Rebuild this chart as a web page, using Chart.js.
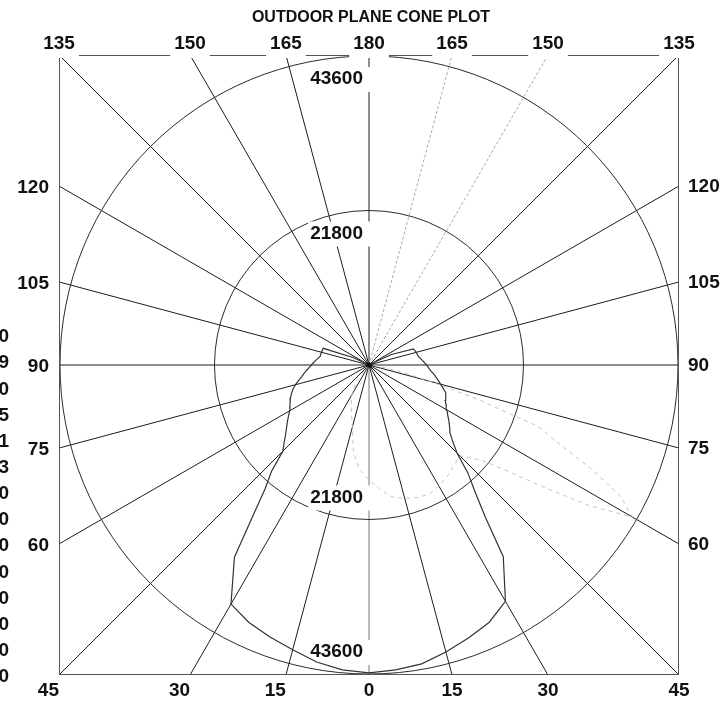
<!DOCTYPE html>
<html>
<head>
<meta charset="utf-8">
<title>Outdoor Plane Cone Plot</title>
<script src="https://cdn.jsdelivr.net/npm/chart.js@4.4.1/dist/chart.umd.min.js"></script>
<style>
  html, body { margin: 0; padding: 0; background: #fff; }
  #wrap { position: relative; width: 720px; height: 703px; }
</style>
</head>
<body>
<div id="wrap"><canvas id="cone"></canvas></div>
<script>
// angles from nadir, degrees
const angles = [0, 5, 10, 15, 20, 25, 30, 35,
  37.5, 40, 42.5, 45, 47.5, 50, 52.5, 55, 57.5, 60, 62.5, 65, 67.5, 70, 72.5, 75, 77.5, 80, 82.5, 85, 87.5, 90,
  95, 100, 105, 110, 115, 120, 125, 130, 135, 140, 145, 150, 155, 160, 165, 170, 175, 180];

// candela, left half of the plane
const leftCd = [43450, 43180, 42560, 41600, 40850, 40080, 38950, 33100,
  27000, 22800, 20380, 17200, 16240, 15380, 14680, 14070, 13480, 12900, 12570, 12280, 11980, 11620, 11240, 10730, 10190, 9660, 9260, 8860, 8460, 8130,
  7550, 7000, 6940, 6870, 2500, 300, 100, 0, 0, 0, 0, 0, 0, 0, 0, 0, 0, 0];

// candela, right half of the plane
const rightCd = [43440, 43180, 42820, 41920, 41000, 40080, 38500, 33030,
  26850, 23210, 20650, 17560, 16050, 14920, 14340, 13760, 13170, 12700, 12280, 11860, 11700, 11540, 11000, 10460, 10000, 9570, 9130, 8690, 8400, 8120,
  7570, 7050, 6910, 6680, 3500, 500, 100, 0, 0, 0, 0, 0, 0, 0, 0, 0, 0, 0];

// faint second plane (negative angle = left of nadir)
const faintAngles = [-50, -40, -30, -20, -10, -5, 0, 5, 10, 15, 20, 25, 30, 35, 40, 45, 50, 52.5, 55, 57.5, 60, 62.5, 65, 67.5, 70, 72.5, 75, 77.5, 80, 85, 90];
const faintCd = [0, 2500, 5000, 7200, 12600, 14800, 16200, 17600, 18900, 19500, 19900, 20100, 19700, 19200, 18600, 18100, 21000, 24500, 30000, 37000, 42900, 40000, 34500, 29000, 25500, 16000, 9000, 5000, 2500, 600, 0];

const ringValues = [21800, 43600];
const ringLabels = ['21800', '43600'];
const limit = 43740;

const topAngles = [-135, -150, -165, 180, 165, 150, 135];
const bottomAngles = [-45, -30, -15, 0, 15, 30, 45];
const leftAngles = [-120, -105, -90, -75, -60];
const rightAngles = [120, 105, 90, 75, 60];
const edgeDigits = ['0', '9', '0', '5', '1', '3', '0', '0', '0', '0', '0', '0', '0', '0'];

function toXY(deg, cd) {
  const r = deg * Math.PI / 180;
  return { x: cd * Math.sin(r), y: -cd * Math.cos(r) };
}

function edgePoint(deg) {
  const r = deg * Math.PI / 180;
  const s = Math.sin(r), c = Math.cos(r);
  const t = limit / Math.max(Math.abs(s), Math.abs(c));
  return { x: t * s, y: -t * c };
}

const mainPts = [];
for (let i = angles.length - 1; i >= 0; i--) mainPts.push(toXY(-angles[i], leftCd[i]));
for (let i = 1; i < angles.length; i++) mainPts.push(toXY(angles[i], rightCd[i]));
const faintPts = faintAngles.map((a, i) => toXY(a, faintCd[i]));

const FONT = '"Liberation Sans", Arial, sans-serif';

const conePlugin = {
  id: 'coneGrid',
  beforeDatasetsDraw(chart) {
    const { ctx, chartArea: ca, scales: { x, y } } = chart;
    const cx = x.getPixelForValue(0), cy = y.getPixelForValue(0);
    ctx.save();

    // spokes every 15 degrees
    for (let a = -165; a <= 180; a += 15) {
      const p = edgePoint(a);
      ctx.beginPath();
      if (a === 150 || a === 165) {
        ctx.strokeStyle = '#aaa'; ctx.setLineDash([3, 2]);
      } else if (a === 0) {
        ctx.strokeStyle = '#777'; ctx.setLineDash([]);
      } else {
        ctx.strokeStyle = '#1c1c1c'; ctx.setLineDash([]);
      }
      ctx.lineWidth = 1;
      ctx.moveTo(cx, cy);
      ctx.lineTo(x.getPixelForValue(p.x), y.getPixelForValue(p.y));
      ctx.stroke();
    }
    ctx.setLineDash([]);

    // rings
    ringValues.forEach(v => {
      const r = x.getPixelForValue(v) - cx;
      ctx.beginPath();
      ctx.strokeStyle = '#2a2a2a';
      ctx.lineWidth = 1;
      ctx.arc(cx, cy, r, 0, Math.PI * 2);
      ctx.stroke();
    });

    // border
    ctx.strokeStyle = '#555';
    ctx.strokeRect(ca.left + 0.5, ca.top + 0.5, ca.right - ca.left - 1, ca.bottom - ca.top - 1);

    // ring labels, left of the vertical spoke
    ctx.font = 'bold 19px ' + FONT;
    ctx.textBaseline = 'middle';
    ctx.textAlign = 'right';
    ringValues.forEach((v, i) => {
      const r = x.getPixelForValue(v) - cx;
      const w = ctx.measureText(ringLabels[i]).width;
      [cy - r + 23, cy + r - 22].forEach(ly => {
        ctx.fillStyle = '#fff';
        ctx.fillRect(cx - 6 - w - 2, ly - 12, w + 13, 25);
        ctx.fillStyle = '#111';
        ctx.fillText(ringLabels[i], cx - 6, ly);
      });
    });

    // angle labels
    ctx.fillStyle = '#111';
    topAngles.forEach(a => {
      const p = edgePoint(a);
      const lx = x.getPixelForValue(p.x);
      const txt = String(Math.abs(a));
      const w = ctx.measureText(txt).width;
      ctx.fillStyle = '#fff';
      ctx.fillRect(lx - w / 2 - 4, ca.top - 22, w + 8, 25);
      ctx.fillStyle = '#111';
      ctx.textAlign = 'center';
      ctx.fillText(txt, lx, ca.top - 11);
    });
    bottomAngles.forEach(a => {
      const p = edgePoint(a);
      const lx = x.getPixelForValue(p.x);
      ctx.textAlign = a < 0 ? 'right' : 'center';
      ctx.fillText(String(Math.abs(a)), lx, ca.bottom + 16);
    });
    leftAngles.forEach(a => {
      const p = edgePoint(a);
      ctx.textAlign = 'right';
      ctx.fillText(String(Math.abs(a)), ca.left - 10, y.getPixelForValue(p.y) + 2);
    });
    rightAngles.forEach(a => {
      const p = edgePoint(a);
      ctx.textAlign = 'left';
      ctx.fillText(String(a), ca.right + 9, y.getPixelForValue(p.y) + 1);
    });

    // clipped column at far left
    ctx.textAlign = 'right';
    edgeDigits.forEach((d, i) => ctx.fillText(d, 9, 337 + i * 26.15));

    // title
    ctx.font = 'bold 16px ' + FONT;
    ctx.textAlign = 'center';
    ctx.fillText('OUTDOOR PLANE CONE PLOT', 371, 18);

    ctx.restore();
  },
  afterDatasetsDraw(chart) {
    const { ctx, scales: { x, y } } = chart;
    const cx = x.getPixelForValue(0), cy = y.getPixelForValue(0);
    ctx.save();
    ctx.fillStyle = '#111';
    ctx.beginPath();
    ctx.arc(cx, cy, 2.5, 0, Math.PI * 2);
    ctx.fill();
    ctx.restore();
  }
};

new Chart(document.getElementById('cone'), {
  type: 'scatter',
  data: {
    datasets: [{
      label: 'Main plane',
      data: mainPts,
      showLine: true,
      borderColor: '#333',
      borderWidth: 1.2,
      pointRadius: 0,
      tension: 0
    }, {
      label: 'Second plane',
      data: faintPts,
      showLine: true,
      borderColor: '#c4c4c4',
      borderWidth: 1,
      borderDash: [4, 4],
      pointRadius: 0,
      tension: 0
    }]
  },
  options: {
    responsive: true,
    maintainAspectRatio: false,
    animation: false,
    layout: { padding: { left: 59, right: 41, top: 55, bottom: 28 } },
    scales: {
      x: { type: 'linear', min: -limit, max: limit, display: false },
      y: { type: 'linear', min: -limit, max: limit, display: false }
    },
    plugins: {
      legend: { display: false },
      tooltip: { enabled: false }
    }
  },
  plugins: [conePlugin]
});
</script>
</body>
</html>
